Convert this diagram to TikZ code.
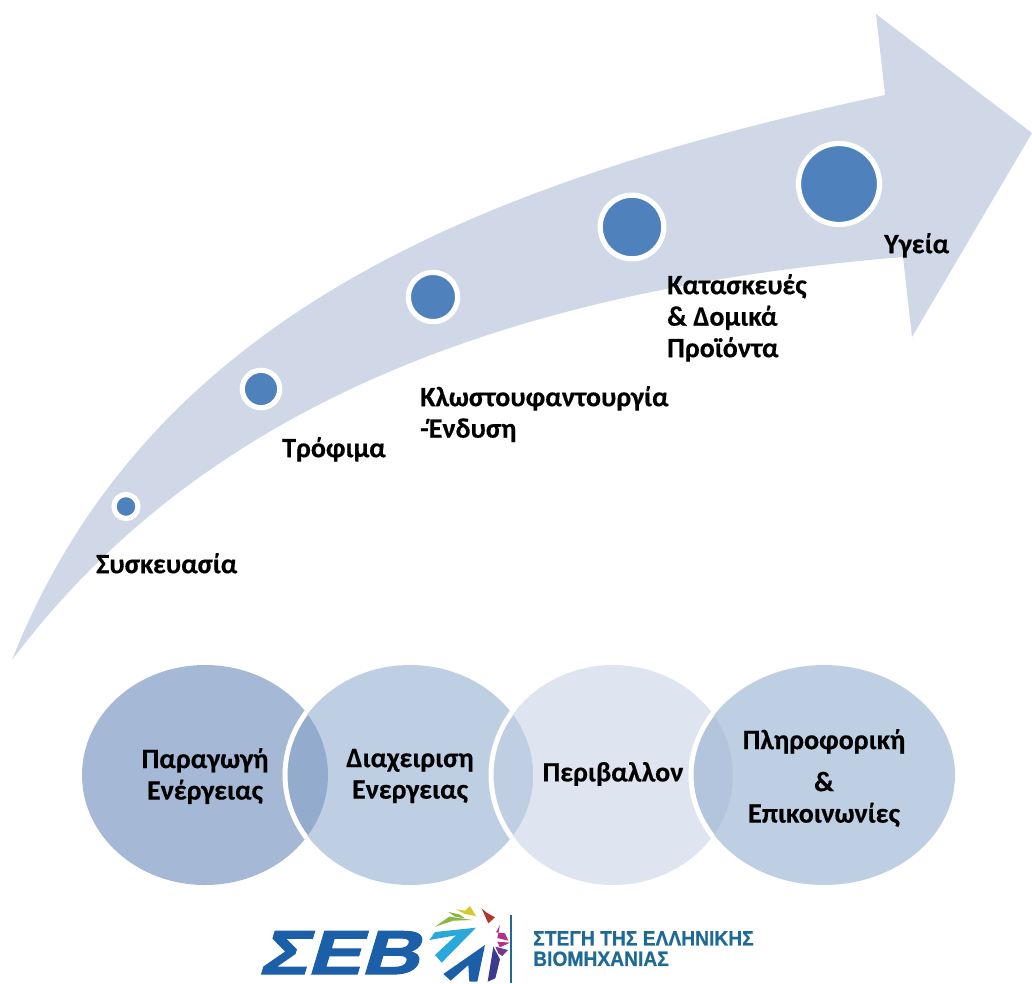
\documentclass[tikz,border=0pt]{standalone}
\usepackage{fontspec}
\setmainfont{Carlito}[BoldFont=Carlito Bold,BoldFeatures={FakeBold=0.4}]
\newfontfamily\logofont{Liberation Sans Bold}[FakeStretch=0.93,FakeBold=0.6]
\newfontfamily\ebfont{Liberation Sans Bold}[FakeSlant=0.3,FakeStretch=1.3,FakeBold=2]
\definecolor{arrowc}{HTML}{D0D8E8}
\definecolor{dotc}{HTML}{4F81BD}
\definecolor{va}{HTML}{A5B9D6}
\definecolor{vb}{HTML}{BFCFE3}
\definecolor{vc}{HTML}{DFE5F0}
\definecolor{oab}{HTML}{93ABCD}
\definecolor{obc}{HTML}{BFCEE2}
\definecolor{ocd}{HTML}{B3C4DD}
\definecolor{logob}{HTML}{1B5FA8}
\definecolor{logot}{HTML}{1F6A94}
\definecolor{lcyan}{HTML}{2AA8DC}
\definecolor{lgreen}{HTML}{8DB63F}
\definecolor{lyellow}{HTML}{D7C82F}
\definecolor{lred}{HTML}{B5342E}
\definecolor{lmag}{HTML}{B5308A}
\definecolor{lpur}{HTML}{6E3A96}
\definecolor{ldark}{HTML}{3C3A8C}
\tikzset{
  lab/.style={font=\bfseries\fontsize{28}{31.5}\selectfont,text=black,align=left,inner sep=0pt,anchor=north west},
  clab/.style={font=\bfseries\fontsize{28}{31.5}\selectfont,text=black,align=center,inner sep=0pt},
  dot/.style={circle,fill=dotc,draw=white,line width=5.2pt,inner sep=0pt},
  ring/.style={draw=white,line width=5pt},
}
\begin{document}
\begin{tikzpicture}[x=1pt,y=-1pt]
\useasboundingbox (0,0) rectangle (1032,983);
% big arrow
\fill[arrowc] (12,660) .. controls (150,310) and (490,180) .. (885,95)
  -- (876,14) -- (1032,133) -- (912,337) -- (903,257)
  .. controls (500,290) and (200,410) .. (12,660) -- cycle;
% dots
\node[dot,minimum size=24pt] (d1) at (126,506.5) {};
\node[dot,minimum size=37.4pt] (d2) at (261,389) {};
\node[dot,minimum size=49.3pt] (d3) at (433,297) {};
\node[dot,minimum size=63.6pt] (d4) at (632,227) {};
\node[dot,minimum size=81pt] (d5) at (839,184) {};
% dot labels
\node[lab] (t1) at (96,553) {Συσκευασία};
\node[lab] (t2) at (282,437) {Τρόφιμα};
\node[lab] (t3) at (420,386) {Κλωστουφαντουργία\\-Ένδυση};
\node[lab] (t4) at (667,274) {Κατασκευές\\\& Δομικά\\Προϊόντα};
\node[lab] (t5) at (884,233) {Υγεία};
% venn
\fill[va] (205,775) ellipse [x radius=123,y radius=110];
\fill[vc] (613,775) ellipse [x radius=120,y radius=110];
\fill[vb] (410,775) ellipse [x radius=123,y radius=110];
\fill[vb] (824,775) ellipse [x radius=131,y radius=110];
\begin{scope}
  \clip (205,775) ellipse [x radius=123,y radius=110];
  \fill[oab] (410,775) ellipse [x radius=123,y radius=110];
  \draw[ring] (410,775) ellipse [x radius=125,y radius=112];
\end{scope}
\begin{scope}
  \clip (410,775) ellipse [x radius=123,y radius=110];
  \fill[obc] (613,775) ellipse [x radius=120,y radius=110];
  \draw[ring] (613,775) ellipse [x radius=122,y radius=112];
\end{scope}
\begin{scope}
  \clip (613,775) ellipse [x radius=120,y radius=110];
  \fill[ocd] (824,775) ellipse [x radius=131,y radius=110];
  \draw[ring] (824,775) ellipse [x radius=133,y radius=112];
\end{scope}
\node[clab] (v1) at (205,776) {Παραγωγή\\Ενέργειας};
\node[clab] (v2) at (410,776) {Διαχειριση\\Ενεργειας};
\node[clab] (v3) at (613,774) {Περιβαλλον};
\node[clab] (v4) at (824,778) {Πληροφορική\\[10.5pt]\&\\Επικοινωνίες};
% logo
\node[inner sep=0pt,text=logob,anchor=base west] (lg) at (258,974) {\fontsize{62}{62}\ebfont ΣΕΒ};
\begin{scope}[shift={(420,900)},x=0.3333pt,y=-0.3333pt]
\fill[logob] (195,135) -- (70,222) -- (92,242) -- (145,195) -- (148,245) -- (172,245) -- cycle;
\fill[lcyan] (168,83) -- (45,96) -- (28,120) -- (108,106) -- (45,165) -- (65,188) -- cycle;
\fill[lgreen] (45,80) -- (88,50) -- (158,60) -- (100,62) -- cycle;
\fill[lgreen] (85,36) -- (118,43) -- (135,55) -- (105,50) -- cycle;
\fill[lyellow] (108,28) -- (135,32) -- (150,18) -- (168,48) -- (135,42) -- cycle;
\fill[lred] (185,25) -- (200,38) -- (225,52) -- (205,70) -- (195,48) -- cycle;
\fill[lmag] (240,75) -- (228,97) -- (255,100) -- (265,122) -- (232,114) -- cycle;
\fill[lmag] (232,125) -- (270,128) -- (240,142) -- cycle;
\fill[lpur] (226,140) -- (264,150) -- (247,168) -- (235,160) -- cycle;
\fill[ldark] (220,140) -- (240,178) -- (226,235) -- (203,245) -- cycle;
\end{scope}
\draw[logot,line width=2.5pt] (511,915) -- (511,983);
\node[inner sep=0pt,anchor=north west,text=logot,align=left,font=\logofont\fontsize{20.7}{20.5}\selectfont] (lt) at (533,931) {ΣΤΕΓΗ ΤΗΣ ΕΛΛΗΝΙΚΗΣ\\ΒΙΟΜΗΧΑΝΙΑΣ};
\end{tikzpicture}
\end{document}
